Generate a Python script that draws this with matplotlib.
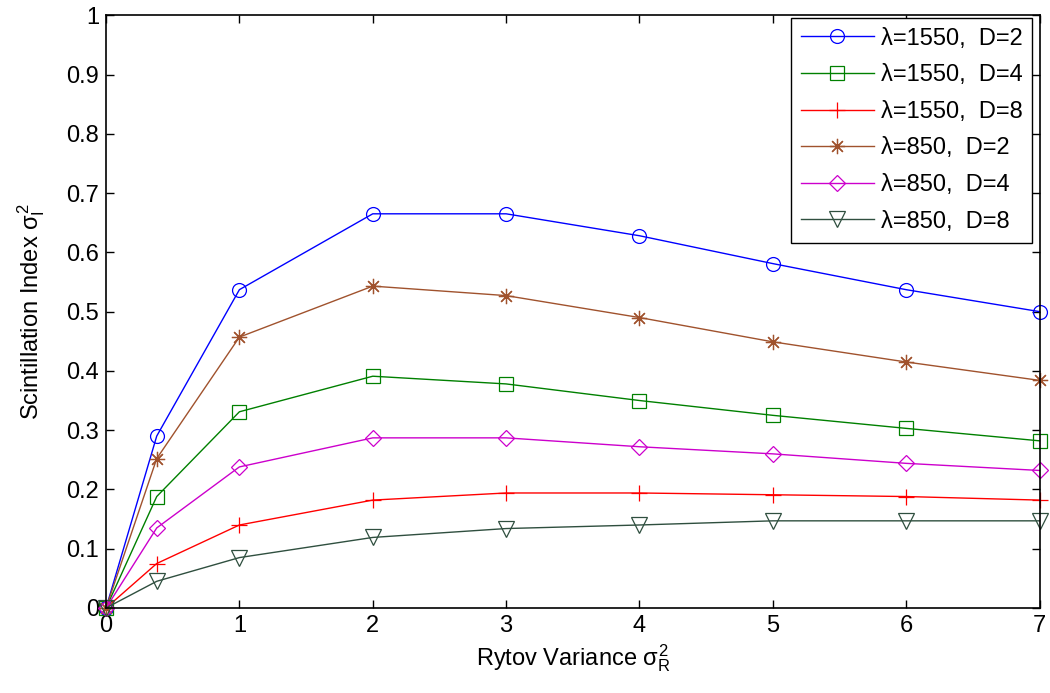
import matplotlib.pyplot as plt

plt.rcParams['font.family'] = ['Liberation Sans', 'DejaVu Sans']
plt.rcParams['mathtext.fontset'] = 'custom'
plt.rcParams['mathtext.rm'] = 'Liberation Sans'
plt.rcParams['mathtext.it'] = 'Liberation Sans'

# Rytov variance values (x)
rytov = [0, 0.38, 1, 2, 3, 4, 5, 6, 7]

# scintillation index per case
si_1550_d2 = [0, 0.290, 0.537, 0.665, 0.665, 0.628, 0.581, 0.537, 0.500]
si_1550_d4 = [0, 0.188, 0.331, 0.391, 0.378, 0.350, 0.325, 0.303, 0.282]
si_1550_d8 = [0, 0.075, 0.140, 0.182, 0.194, 0.194, 0.191, 0.188, 0.182]
si_850_d2 = [0, 0.252, 0.457, 0.543, 0.527, 0.490, 0.449, 0.415, 0.384]
si_850_d4 = [0, 0.135, 0.238, 0.287, 0.287, 0.272, 0.260, 0.244, 0.232]
si_850_d8 = [0, 0.045, 0.085, 0.119, 0.134, 0.140, 0.147, 0.147, 0.147]

labels = ['λ=1550,  D=2', 'λ=1550,  D=4', 'λ=1550,  D=8',
          'λ=850,  D=2', 'λ=850,  D=4', 'λ=850,  D=8']
series = [si_1550_d2, si_1550_d4, si_1550_d8, si_850_d2, si_850_d4, si_850_d8]
colors = ['#0000FF', '#008000', '#FF0000', '#A0522D', '#CC00CC', '#2F4F3F']
markers = ['o', 's', '+', (8, 2, 0), 'D', 'v']
sizes = [10, 10, 12, 11, 8, 11]

fig = plt.figure(figsize=(10.5, 6.93), dpi=100)
ax = fig.add_axes([0.101, 0.1227, 0.889, 0.8553])

for y, lab, c, m, s in zip(series, labels, colors, markers, sizes):
    ax.plot(rytov, y, '-', marker=m, color=c, label=lab, markersize=s,
            markerfacecolor='none', markeredgewidth=0.9, linewidth=1.0,
            clip_on=False)

ax.set_xlim(0, 7)
ax.set_ylim(0, 1)
ax.set_xticks(range(0, 8))
ax.set_yticks([i / 10 for i in range(11)])
ax.set_yticklabels(['0', '0.1', '0.2', '0.3', '0.4', '0.5', '0.6', '0.7', '0.8', '0.9', '1'])
ax.tick_params(direction='in', length=6, labelsize=17, top=True, right=True,
               width=1, pad=5)
for sp in ax.spines.values():
    sp.set_linewidth(1.2)

ax.set_xlabel(r'Rytov Variance $\sigma_R^2$', fontsize=17, labelpad=4)
ax.set_ylabel(r'Scintillation Index $\sigma_I^2$', fontsize=17, labelpad=14)

leg = ax.legend(loc='upper right', fontsize=17, fancybox=False, framealpha=1,
                edgecolor='black', handlelength=3.1, handletextpad=0.3,
                borderaxespad=0, bbox_to_anchor=(0.9925, 0.996),
                labelspacing=0.62, borderpad=0.42)
leg.get_frame().set_linewidth(1.0)

plt.savefig('out.png', dpi=100)
